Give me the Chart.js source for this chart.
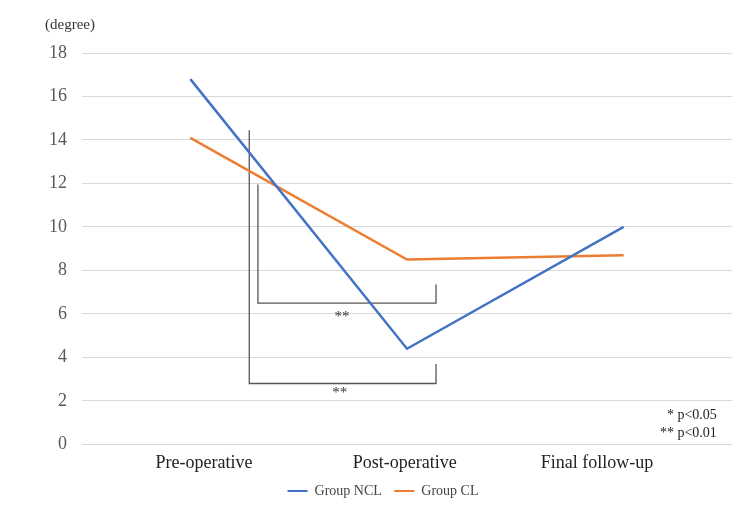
<!DOCTYPE html>
<html>
<head>
<meta charset="utf-8">
<script src="https://cdn.jsdelivr.net/npm/chart.js@4"></script>
<style>
  html, body { margin: 0; padding: 0; background: #fff; }
  #wrap { width: 750px; height: 516px; }
</style>
</head>
<body>
<div id="wrap"><canvas id="chart" width="750" height="516"></canvas></div>
<script>
// ====== DATA ======
const categories = ['Pre-operative', 'Post-operative', 'Final follow-up'];
const ncl = [16.8, 4.4, 10.0];
const cl  = [14.1, 8.5, 8.7];

// where each category label sits on the 0..3 x scale
const labelAt = [0.563, 1.49, 2.377];

// significance brackets (x on 0..3 scale, y in degrees)
const bracketOuterX = [0.772, 0.772, 1.634, 1.634];
const bracketOuterY = [14.45, 2.8, 2.8, 3.7];
const bracketInnerX = [0.812, 0.812, 1.634, 1.634];
const bracketInnerY = [11.95, 6.5, 6.5, 7.35];
const starMarks = [ { x: 1.19, y: 2.35, text: '**' }, { x: 1.2, y: 5.85, text: '**' } ];
const pNotes = ['* p<0.05', '** p<0.01'];

// ====== HELPERS ======
const SERIF = '"Liberation Serif", "Times New Roman", serif';
const BLUE = '#4472C4';
const ORANGE = '#ED7D31';

function toPoints(vals){ return vals.map((v, i) => ({ x: i + 0.5, y: v })); }
function zipXY(xs, ys){ return xs.map((x, i) => ({ x, y: ys[i] })); }

function bracketSet(xs, ys){
  return {
    label: '_bracket',
    data: zipXY(xs, ys),
    borderColor: '#555555',
    borderWidth: 1.3,
    pointRadius: 0,
    fill: false,
    tension: 0
  };
}

// legend: only the two groups, a bit of room after the first one
function legendLabels(chart){
  const items = Chart.defaults.plugins.legend.labels.generateLabels(chart)
    .filter(it => it.text !== '_bracket');
  items.forEach((it, i) => {
    it.lineWidth = 2;
    if (i < items.length - 1) it.text = it.text + '   ';
  });
  return items;
}

// extra text: "(degree)", stars, p-value notes
const textPlugin = {
  id: 'extraText',
  afterDatasetsDraw(chart){
    const { ctx, scales: { x, y } } = chart;
    ctx.save();
    ctx.fillStyle = '#333';
    ctx.textBaseline = 'middle';
    ctx.textAlign = 'center';
    ctx.font = '15px ' + SERIF;
    starMarks.forEach(s => ctx.fillText(s.text, x.getPixelForValue(s.x), y.getPixelForValue(s.y)));

    ctx.textAlign = 'right';
    ctx.font = '14px ' + SERIF;
    ctx.fillStyle = '#222';
    ctx.fillText(pNotes[0], x.getPixelForValue(2.93), y.getPixelForValue(1.33));
    ctx.fillText(pNotes[1], x.getPixelForValue(2.93), y.getPixelForValue(0.5));

    ctx.textAlign = 'center';
    ctx.font = '15px ' + SERIF;
    ctx.fillStyle = '#333';
    ctx.fillText('(degree)', 70, 25);
    ctx.restore();
  }
};

// ====== CHART ======
const ctx = document.getElementById('chart').getContext('2d');
new Chart(ctx, {
  type: 'line',
  data: {
    datasets: [
      {
        label: 'Group NCL',
        data: toPoints(ncl),
        borderColor: BLUE,
        backgroundColor: BLUE,
        borderWidth: 2.5,
        pointRadius: 0,
        fill: false,
        tension: 0
      },
      {
        label: 'Group CL',
        data: toPoints(cl),
        borderColor: ORANGE,
        backgroundColor: ORANGE,
        borderWidth: 2.5,
        pointRadius: 0,
        fill: false,
        tension: 0
      },
      bracketSet(bracketOuterX, bracketOuterY),
      bracketSet(bracketInnerX, bracketInnerY)
    ]
  },
  options: {
    responsive: false,
    animation: false,
    layout: { padding: { left: 34, right: 18, top: 53, bottom: 8 } },
    plugins: {
      tooltip: { enabled: false },
      legend: {
        position: 'bottom',
        labels: {
          generateLabels: legendLabels,
          boxWidth: 20,
          boxHeight: 0,
          padding: 2,
          color: '#444',
          font: { family: SERIF, size: 14 }
        }
      }
    },
    scales: {
      x: {
        type: 'linear',
        min: 0,
        max: 3,
        afterBuildTicks: axis => { axis.ticks = labelAt.map(v => ({ value: v })); },
        ticks: {
          autoSkip: false,
          maxRotation: 0,
          padding: 8,
          color: '#222',
          font: { family: SERIF, size: 18 },
          callback: (v, i) => categories[i]
        },
        grid: { display: false, drawTicks: false },
        border: { display: false }
      },
      y: {
        min: 0,
        max: 18,
        ticks: {
          stepSize: 2,
          padding: 15,
          color: '#595959',
          font: { family: SERIF, size: 18 }
        },
        grid: { color: '#d9d9d9', lineWidth: 1, drawTicks: false },
        border: { display: false }
      }
    }
  },
  plugins: [textPlugin]
});
</script>
</body>
</html>
